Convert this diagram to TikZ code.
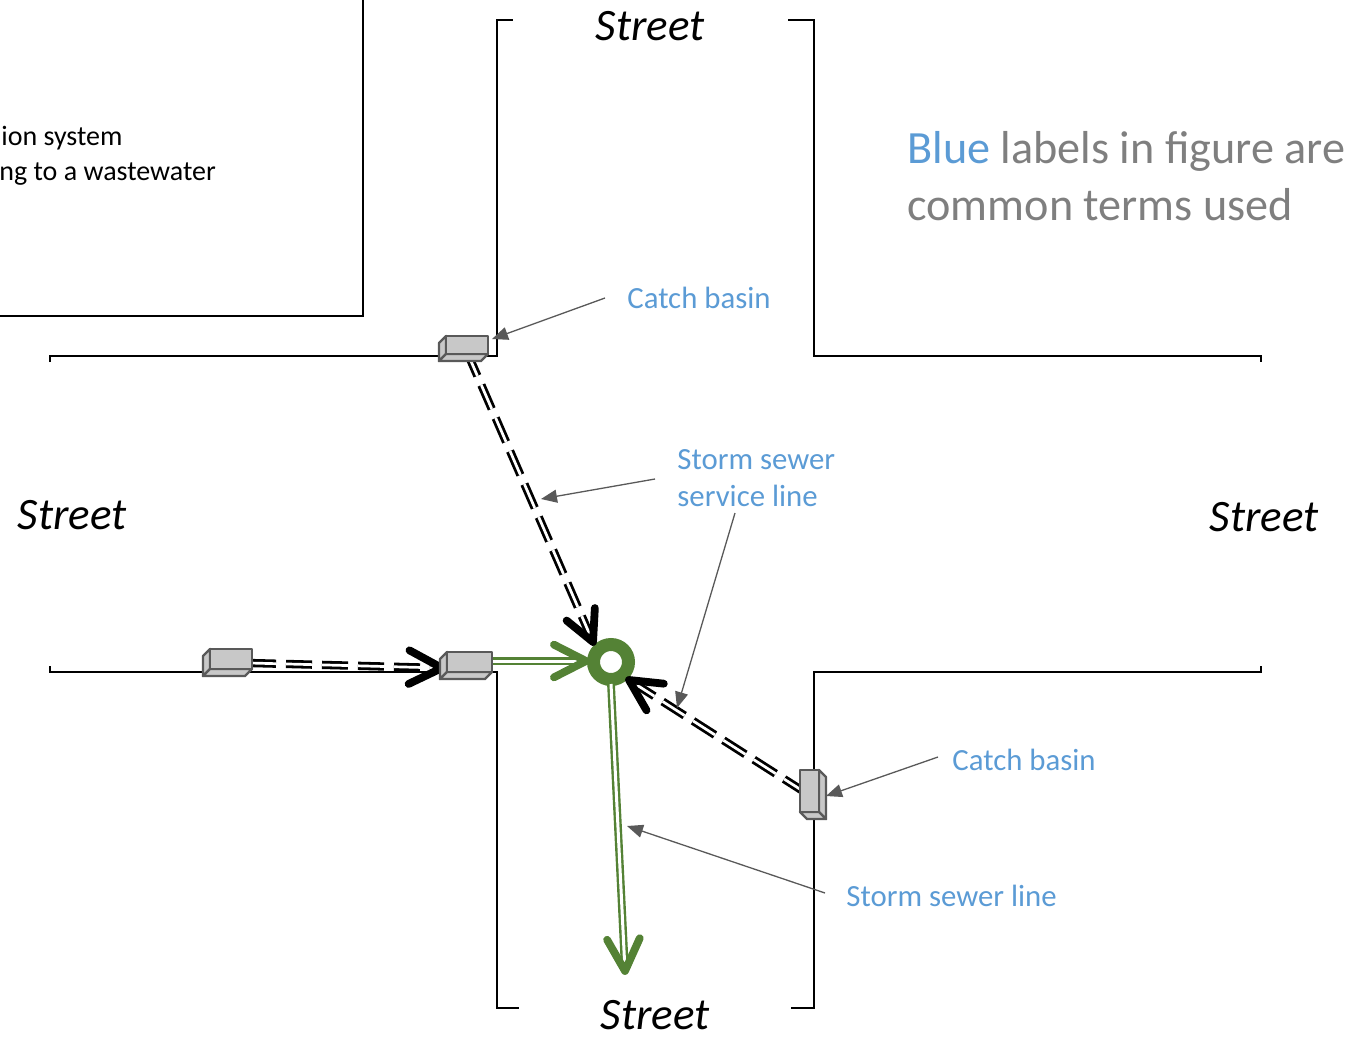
\documentclass[tikz,border=0pt]{standalone}
\usepackage{fontspec}
\setmainfont{Carlito}
\usetikzlibrary{arrows.meta,calc}
\definecolor{lblue}{HTML}{5B9BD5}
\definecolor{lgrey}{HTML}{7F7F7F}
\definecolor{cgreen}{HTML}{548235}
\definecolor{cbedge}{HTML}{595959}
\definecolor{cbfill}{HTML}{C8C8C8}
\newcommand\mychev[4]{%
  \draw[chevstroke,#4] ($(#1)+({#2+180-27}:#3)$) -- (#1) -- ($(#1)+({#2+180+27}:#3)$);}
\tikzset{
  streetline/.style={line width=1.35pt, line join=miter},
  sewer/.style={draw=black, double=white, line width=1.4pt, double distance=1.35pt, dash pattern=on 13pt off 5pt},
  greenpipe/.style={draw=cgreen, double=white, line width=1.2pt, double distance=1.5pt},
  chevstroke/.style={line width=3.9pt, line cap=round, line join=round},
  callout/.style={draw=cbedge, line width=0.65pt, -{Triangle[length=8pt,width=6.5pt]}},
  bluelbl/.style={text=lblue, font=\fontsize{15.4}{18.5}\selectfont, inner sep=0, anchor=base west},
  streetlbl/.style={font=\fontsize{22.5}{27}\selectfont\itshape, inner sep=0, anchor=base},
  cbface/.style={fill=cbfill, draw=cbedge, line width=1.2pt, line join=round},
  pics/cbh/.style args={#1x#2}{code={
    \path[cbface] (0,0) -- (-7,7) -- (-7,{#2+7}) -- (0,#2) -- cycle;
    \path[cbface] (0,#2) -- (-7,{#2+7}) -- ({#1-7},{#2+7}) -- (#1,#2) -- cycle;
    \path[cbface] (0,0) rectangle (#1,#2);}},
  pics/cbv/.style args={#1x#2}{code={
    \path[cbface] (#1,0) -- ({#1+7},7) -- ({#1+7},{#2+7}) -- (#1,#2) -- cycle;
    \path[cbface] (0,#2) -- (#1,#2) -- ({#1+7},{#2+7}) -- (7,{#2+7}) -- cycle;
    \path[cbface] (0,0) rectangle (#1,#2);}},
}
\begin{document}
\begin{tikzpicture}[x=0.5pt,y=-0.5pt]
\useasboundingbox (0,0) rectangle (1365,1039);
% building box and text
\draw[streetline] (0,316) -- (363,316) -- (363,-5);
\node[inner sep=0, anchor=base west, font=\fontsize{14}{16}\selectfont] (t1) at (1,145) {ion system};
\node[inner sep=0, anchor=base west, font=\fontsize{14}{16}\selectfont] (t2) at (-1,180) {ng to a wastewater};
% streets
\draw[streetline] (50,362) -- (50,356) -- (497,356) -- (497,20) -- (513,20);
\draw[streetline] (788,20) -- (814,20) -- (814,356) -- (1261,356) -- (1261,362);
\draw[streetline] (50,666) -- (50,672) -- (497,672) -- (497,1008) -- (519,1008);
\draw[streetline] (1261,666) -- (1261,672) -- (814,672) -- (814,1008) -- (791,1008);
\node[streetlbl] (stop) at (650,40) {Street};
\node[streetlbl] (sleft) at (72,529) {Street};
\node[streetlbl] (sright) at (1264,531) {Street};
\node[streetlbl] (sbot) at (655,1029) {Street};
% legend
\node[inner sep=0, anchor=base west, text=lgrey, font=\fontsize{23.1}{27}\selectfont] (lg1) at (907,163) {\textcolor{lblue}{Blue} labels in figure are};
\node[inner sep=0, anchor=base west, text=lgrey, font=\fontsize{23.1}{27}\selectfont] (lg2) at (907,220) {common terms used};
% coordinates
\coordinate (cb1) at (467,352);
\coordinate (cb2) at (250,663);
\coordinate (cb3) at (490,661);
\coordinate (cb4) at (806,793);
\coordinate (tip1) at (593,642);
\coordinate (tip2) at (442,668);
\coordinate (tip3) at (629,680);
\coordinate (tipA) at (586,661);
\coordinate (tipB) at (625,971);
% manhole
\node[circle, draw=cgreen, line width=6.5pt, minimum size=17.5pt, inner sep=0] (mh) at (611,662) {};
% sewer service lines
\draw[sewer] (cb1) -- (tip1);
\draw[sewer] (cb2) -- (tip2);
\draw[sewer] (cb4) -- (tip3);
\mychev{tip1}{66.1}{34}{black}
\mychev{tip2}{1.5}{37}{black}
\mychev{tip3}{213}{35}{black}
% green storm sewer
\draw[greenpipe] (cb3) -- (tipA);
\draw[greenpipe] (611,684) -- (tipB);
\mychev{tipA}{0}{36}{cgreen}
\mychev{tipB}{87.2}{36}{cgreen}
% catch basins
\pic at (446,336) {cbh=42x18};
\pic at (210,649) {cbh=42x20};
\pic at (447,652) {cbh=45x20};
\pic at (800,770) {cbv=19x42};
% labels
\node[bluelbl] (lcb1) at (627,308) {Catch basin};
\node[bluelbl] (lss1) at (677,469) {Storm sewer};
\node[bluelbl] (lss2) at (677,506) {service line};
\node[bluelbl] (lcb2) at (952,770) {Catch basin};
\node[bluelbl] (lsl) at (846,906) {Storm sewer line};
% callouts
\coordinate (c1s) at (605,298); \coordinate (c1e) at (492,339);
\coordinate (c2s) at (655,479); \coordinate (c2e) at (541,499);
\coordinate (c3s) at (735,513); \coordinate (c3e) at (677,708);
\coordinate (c4s) at (938,757); \coordinate (c4e) at (826,796);
\coordinate (c5s) at (825,893); \coordinate (c5e) at (627,826);
\draw[callout] (c1s) -- (c1e);
\draw[callout] (c2s) -- (c2e);
\draw[callout] (c3s) -- (c3e);
\draw[callout] (c4s) -- (c4e);
\draw[callout] (c5s) -- (c5e);
\end{tikzpicture}
\end{document}
